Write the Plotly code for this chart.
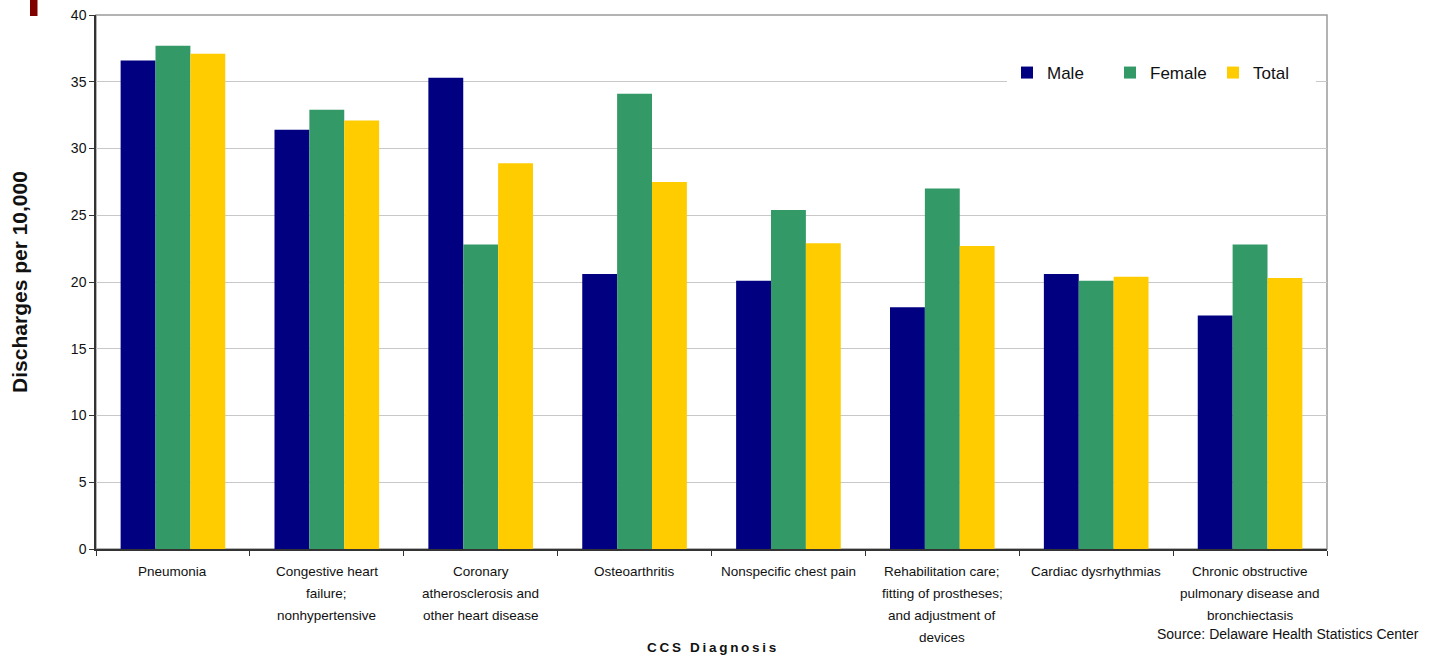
import plotly.graph_objects as go

categories = [
    "Pneumonia",
    "Congestive heart<br>failure;<br>nonhypertensive",
    "Coronary<br>atherosclerosis and<br>other heart disease",
    "Osteoarthritis",
    "Nonspecific chest pain",
    "Rehabilitation care;<br>fitting of prostheses;<br>and adjustment of<br>devices",
    "Cardiac dysrhythmias",
    "Chronic obstructive<br>pulmonary disease and<br>bronchiectasis",
]
male = [36.6, 31.4, 35.3, 20.6, 20.1, 18.1, 20.6, 17.5]
female = [37.7, 32.9, 22.8, 34.1, 25.4, 27.0, 20.1, 22.8]
total = [37.1, 32.1, 28.9, 27.5, 22.9, 22.7, 20.4, 20.3]
y_ticks = [0, 5, 10, 15, 20, 25, 30, 35, 40]

series = [("Male", male, "#000080"), ("Female", female, "#339966"), ("Total", total, "#FFCC00")]

W, H = 1435, 658
L, R, T, B = 96, 108, 15, 109
pw, ph = W - L - R, H - T - B
FONT = "Liberation Sans, Arial"

fig = go.Figure()
keys = [f"c{i}" for i in range(len(categories))]
for name, vals, col in series:
    fig.add_trace(go.Bar(x=keys, y=vals, name=name, marker=dict(color=col, line=dict(width=0))))

# category labels as annotations (per line, for wider line spacing)
for k, lab in zip(keys, categories):
    for j, line in enumerate(lab.split("<br>")):
        fig.add_annotation(x=k, xref="x", y=0, yref="paper", text=line, showarrow=False,
                           yanchor="middle", xanchor="center", yshift=-(22 + 22 * j),
                           font=dict(family=FONT, size=13.5, color="#111"))

spaced = "\u2009".join("CCS Diagnosis")
fig.add_annotation(x=0.5, xref="paper", y=0, yref="paper", text=f"<b>{spaced}</b>",
                   showarrow=False, yshift=-98, yanchor="middle",
                   font=dict(family=FONT, size=13.5, color="#111"))
fig.add_annotation(x=(1421 - L) / pw, xref="paper", y=0, yref="paper",
                   text="Source: Delaware Health Statistics Center", showarrow=False,
                   xanchor="right", yanchor="middle", yshift=-(634 - 549),
                   font=dict(family=FONT, size=14, color="#111"))

# red marker top-left
fig.add_shape(type="rect", xref="paper", yref="paper",
              x0=(30 - L) / pw, x1=(37.5 - L) / pw, y0=(H - B - 16) / ph, y1=(H - B + 2) / ph,
              fillcolor="#800000", line=dict(width=0))
# gray plot border (top/right)
fig.add_shape(type="rect", xref="paper", yref="paper", x0=0, x1=1, y0=0, y1=1,
              line=dict(color="#9a9a9a", width=1.5), layer="below")

fig.update_layout(
    width=W, height=H,
    margin=dict(l=L, r=R, t=T, b=B, autoexpand=False),
    paper_bgcolor="white", plot_bgcolor="white",
    barmode="group", bargap=0.32, bargroupgap=0,
    font=dict(family=FONT, size=14, color="#111"),
    legend=dict(orientation="h", x=(1007 - L) / pw, y=(H - B - 55) / ph, xanchor="left", yanchor="top",
                bgcolor="white", font=dict(size=17), itemwidth=30, tracegroupgap=0,
                entrywidth=58, entrywidthmode="pixels"),
    showlegend=True,
    xaxis=dict(showticklabels=False, tickson="boundaries", ticks="outside", ticklen=5,
               tickcolor="#333", showline=True, linecolor="#333", linewidth=1.5, showgrid=False,
               zeroline=False, automargin=False),
    yaxis=dict(range=[0, 40], tickvals=y_ticks, ticks="outside", ticklen=5, tickcolor="#333",
               showline=True, linecolor="#333", linewidth=1.5, gridcolor="#c8c8c8", gridwidth=1,
               zeroline=False, tickfont=dict(size=14), automargin=False,
               title=dict(text="<b>Discharges per 10,000</b>", font=dict(size=21), standoff=38)),
)
fig.write_html("out.html")
